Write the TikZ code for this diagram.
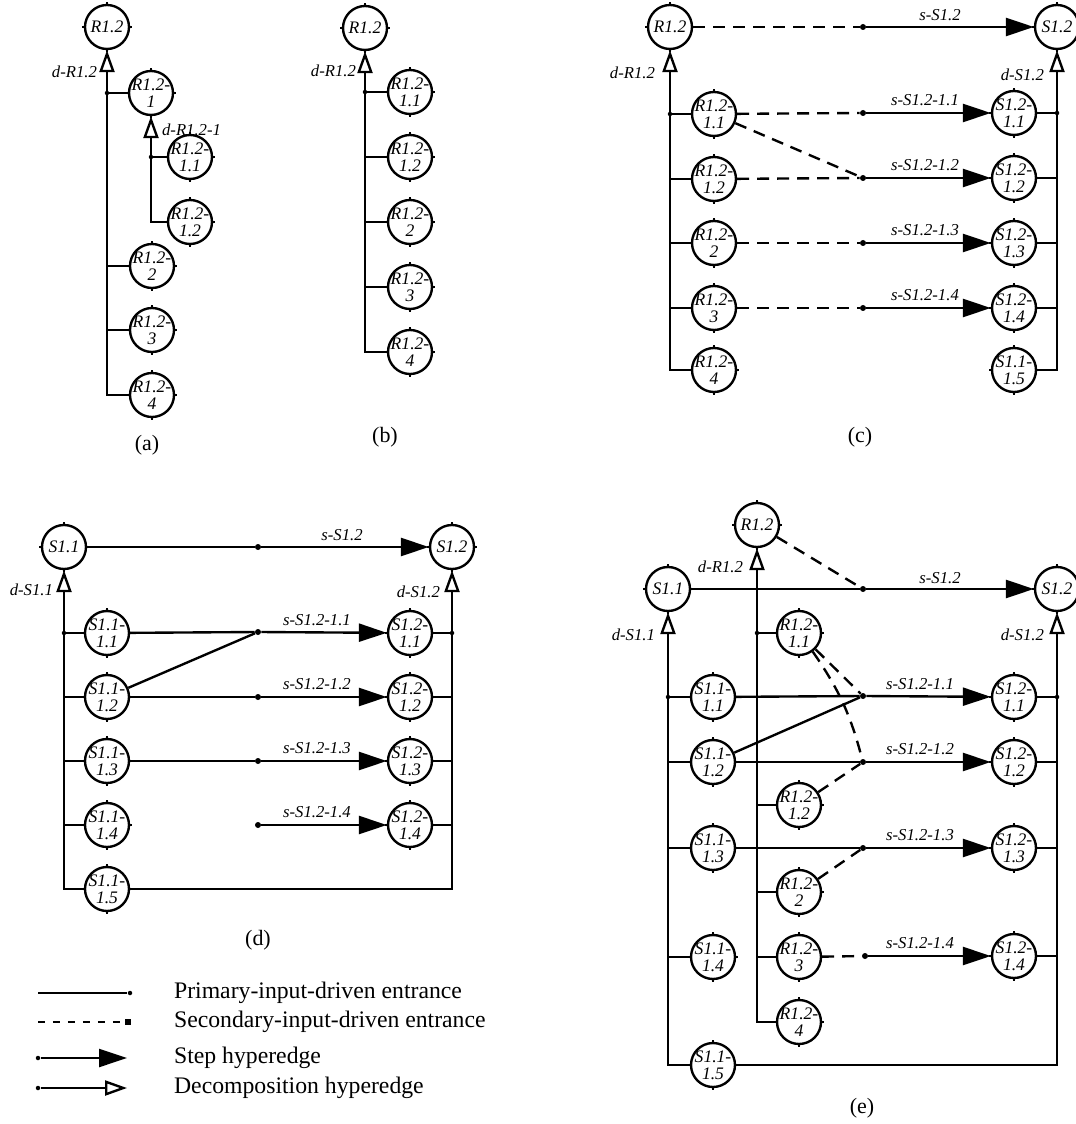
\documentclass[tikz,border=0pt]{standalone}
\usepackage{fontspec}
\setmainfont{Liberation Serif}
\usetikzlibrary{arrows.meta,positioning,calc}

\begin{document}
\begin{tikzpicture}[x=0.02cm,y=-0.02cm,
  proc/.style={circle,draw,line width=1.35pt,minimum size=8.8mm,inner sep=-2pt,align=center,font=\fontsize{10}{9.5}\selectfont\itshape,
    append after command={(\tikzlastnode.north) edge[tick] +(0,1.3pt) (\tikzlastnode.south) edge[tick] +(0,-1.3pt)
      (\tikzlastnode.east) edge[tick] +(1.3pt,0) (\tikzlastnode.west) edge[tick] +(-1.3pt,0)}},
  tick/.style={line width=0.7pt},
  lbl/.style={inner sep=1pt,font=\fontsize{9.5}{9.5}\selectfont\itshape},
  capt/.style={inner sep=1pt,font=\fontsize{12.5}{14}\selectfont},
  lgt/.style={inner sep=1pt,font=\fontsize{13.5}{15}\selectfont},
  jn/.style={circle,fill,inner sep=0pt,minimum size=1.2mm},
  bj/.style={circle,fill,inner sep=0pt,minimum size=0.9mm},
  prim/.style={line width=1.35pt},
  sec/.style={line width=1.35pt,dash pattern=on 2.4mm off 1.6mm},
  stp/.style={line width=1.35pt,-{Triangle[length=5.6mm,width=3.6mm]}},
  dec/.style={line width=1.35pt,-{Triangle[open,length=4.4mm,width=3mm]}}]
\useasboundingbox (0,0) rectangle (1075,1124);
% (a) nested decomposition of R1.2
\node[proc] (aR) at (107,27) {R1.2};
\node[proc] (aR1) at (151,93) {R1.2-\\1};
\node[proc] (aR11) at (190,157) {R1.2-\\1.1};
\node[proc] (aR12) at (190,222) {R1.2-\\1.2};
\node[proc] (aR2) at (152,266) {R1.2-\\2};
\node[proc] (aR3) at (152,330) {R1.2-\\3};
\node[proc] (aR4) at (152,395) {R1.2-\\4};
\draw[dec] (aR4.west) -| (aR.south);
\draw[prim] (aR1.west) -- (aR1 -| aR);
\draw[prim] (aR2.west) -- (aR2 -| aR);
\draw[prim] (aR3.west) -- (aR3 -| aR);
\node[bj] (aj1) at (aR1 -| aR) {};
\draw[dec] (aR12.west) -| (aR1.south);
\draw[prim] (aR11.west) -- (aR11 -| aR1);
\node[bj] (aj2) at (aR11 -| aR1) {};
\node[lbl,anchor=east] (adl) at (99,72) {d-R1.2};
\node[lbl,anchor=west] (adl1) at (160,130) {d-R1.2-1};
\node[capt] (acap) at (147,445) {(a)};
% (b) flattened decomposition
\node[proc] (bR) at (365,28) {R1.2};
\node[proc] (bR11) at (410,92) {R1.2-\\1.1};
\node[proc] (bR12) at (410,157) {R1.2-\\1.2};
\node[proc] (bR2) at (410,222) {R1.2-\\2};
\node[proc] (bR3) at (410,287) {R1.2-\\3};
\node[proc] (bR4) at (410,352) {R1.2-\\4};
\draw[dec] (bR4.west) -| (bR.south);
\foreach \n in {bR11,bR12,bR2,bR3}
  \draw[prim] (\n.west) -- (\n -| bR);
\node[bj] (bj1) at (bR11 -| bR) {};
\node[lbl,anchor=east] (bdl) at (358,71) {d-R1.2};
\node[capt] (bcap) at (385,437) {(b)};
% (c) secondary-input-driven entrances
\node[proc] (cR) at (670,27) {R1.2};
\node[proc] (cR11) at (714,114) {R1.2-\\1.1};
\node[proc] (cR12) at (714,179) {R1.2-\\1.2};
\node[proc] (cR2) at (714,243) {R1.2-\\2};
\node[proc] (cR3) at (714,308) {R1.2-\\3};
\node[proc] (cR4) at (714,370) {R1.2-\\4};
\node[proc] (cS) at (1057,27) {S1.2};
\node[proc] (cS11) at (1014,113) {S1.2-\\1.1};
\node[proc] (cS12) at (1014,178) {S1.2-\\1.2};
\node[proc] (cS13) at (1014,243) {S1.2-\\1.3};
\node[proc] (cS14) at (1014,308) {S1.2-\\1.4};
\node[proc] (cS15) at (1014,370) {S1.1-\\1.5};
\node[jn] (cj0) at (863,27) {};
\node[jn] (cj1) at (863,113) {};
\node[jn] (cj2) at (863,178) {};
\node[jn] (cj3) at (863,243) {};
\node[jn] (cj4) at (863,308) {};
\draw[sec] (cR) -- (cj0);
\draw[sec] (cR11) -- (cj1);
\draw[sec] (cR11) -- (cj2);
\draw[sec] (cR12) -- (cj2);
\draw[sec] (cR2) -- (cj3);
\draw[sec] (cR3) -- (cj4);
\draw[stp] (cj0) -- (cS);
\draw[stp] (cj1) -- (cS11);
\draw[stp] (cj2) -- (cS12);
\draw[stp] (cj3) -- (cS13);
\draw[stp] (cj4) -- (cS14);
\draw[dec] (cR4.west) -| (cR.south);
\foreach \n in {cR11,cR12,cR2,cR3}
  \draw[prim] (\n.west) -- (\n -| cR);
\node[bj] (cj5) at (cR11 -| cR) {};
\draw[dec] (cS15.east) -| (cS.south);
\foreach \n in {cS11,cS12,cS13,cS14}
  \draw[prim] (\n.east) -- (\n -| cS);
\node[bj] (cj6) at (cS11 -| cS) {};
\node[lbl,anchor=east] (cdl1) at (657,73) {d-R1.2};
\node[lbl,anchor=east] (cdl2) at (1046,75) {d-S1.2};
\node[lbl] (cl0) at (940,15) {s-S1.2};
\node[lbl] (cl1) at (925,100) {s-S1.2-1.1};
\node[lbl] (cl2) at (925,165) {s-S1.2-1.2};
\node[lbl] (cl3) at (925,230) {s-S1.2-1.3};
\node[lbl] (cl4) at (925,295) {s-S1.2-1.4};
\node[capt] (ccap) at (860,437) {(c)};
% (d) primary-input-driven entrances
\node[proc] (dS1) at (64,547) {S1.1};
\node[proc] (dS11) at (107,633) {S1.1-\\1.1};
\node[proc] (dS12) at (107,697) {S1.1-\\1.2};
\node[proc] (dS13) at (107,761) {S1.1-\\1.3};
\node[proc] (dS14) at (107,825) {S1.1-\\1.4};
\node[proc] (dS15) at (107,889) {S1.1-\\1.5};
\node[proc] (dS2) at (452,547) {S1.2};
\node[proc] (dS21) at (410,633) {S1.2-\\1.1};
\node[proc] (dS22) at (410,697) {S1.2-\\1.2};
\node[proc] (dS23) at (410,761) {S1.2-\\1.3};
\node[proc] (dS24) at (410,825) {S1.2-\\1.4};
\node[jn] (dj0) at (258,547) {};
\node[jn] (dj1) at (258,632) {};
\node[jn] (dj2) at (258,697) {};
\node[jn] (dj3) at (258,761) {};
\node[jn] (dj4) at (258,825) {};
\draw[prim] (dS1) -- (dj0);
\draw[prim] (dS11) -- (dj1);
\draw[prim] (dS12) -- (dj2);
\draw[prim] (dS12) -- (dj1);
\draw[prim] (dS13) -- (dj3);
\draw[stp] (dj0) -- (dS2);
\draw[stp] (dj1) -- (dS21);
\draw[stp] (dj2) -- (dS22);
\draw[stp] (dj3) -- (dS23);
\draw[stp] (dj4) -- (dS24);
\draw[dec] (dS15.west) -| (dS1.south);
\foreach \n in {dS11,dS12,dS13,dS14}
  \draw[prim] (\n.west) -- (\n -| dS1);
\node[bj] (dj5) at (dS11 -| dS1) {};
\draw[dec] (dS15.east) -| (dS2.south);
\foreach \n in {dS21,dS22,dS23,dS24}
  \draw[prim] (\n.east) -- (\n -| dS2);
\node[bj] (dj6) at (dS21 -| dS2) {};
\node[lbl,anchor=east] (ddl1) at (55,590) {d-S1.1};
\node[lbl,anchor=east] (ddl2) at (442,592) {d-S1.2};
\node[lbl] (dl0) at (342,535) {s-S1.2};
\node[lbl] (dl1) at (317,620) {s-S1.2-1.1};
\node[lbl] (dl2) at (317,684) {s-S1.2-1.2};
\node[lbl] (dl3) at (317,748) {s-S1.2-1.3};
\node[lbl] (dl4) at (317,812) {s-S1.2-1.4};
\node[capt] (dcap) at (258,940) {(d)};
% legend
\coordinate (lg1) at (38,993);
\node[bj] (lg1e) at (130,993) {};
\draw[prim] (lg1) -- (lg1e);
\coordinate (lg2) at (38,1022);
\node[jn,rectangle] (lg2e) at (128,1022) {};
\draw[line width=1.35pt,dash pattern=on 1.4mm off 1.6mm] (lg2) -- (lg2e);
\node[bj] (lg3) at (38,1058) {};
\coordinate (lg3e) at (127,1058);
\draw[stp] (lg3) -- (lg3e);
\node[bj] (lg4) at (38,1088) {};
\coordinate (lg4e) at (127,1088);
\draw[dec] (lg4) -- (lg4e);
\node[lgt,anchor=west] (lt1) at (172,993) {Primary-input-driven entrance};
\node[lgt,anchor=west] (lt2) at (172,1022) {Secondary-input-driven entrance};
\node[lgt,anchor=west] (lt3) at (172,1058) {Step hyperedge};
\node[lgt,anchor=west] (lt4) at (172,1088) {Decomposition hyperedge};
% (e) both kinds of entrance combined
\node[proc] (eR) at (757,525) {R1.2};
\node[proc] (eR11) at (799,633) {R1.2-\\1.1};
\node[proc] (eR12) at (799,805) {R1.2-\\1.2};
\node[proc] (eR2) at (799,892) {R1.2-\\2};
\node[proc] (eR3) at (799,957) {R1.2-\\3};
\node[proc] (eR4) at (799,1022) {R1.2-\\4};
\node[proc] (eS1) at (668,589) {S1.1};
\node[proc] (eS11) at (713,697) {S1.1-\\1.1};
\node[proc] (eS12) at (713,762) {S1.1-\\1.2};
\node[proc] (eS13) at (713,848) {S1.1-\\1.3};
\node[proc] (eS14) at (713,957) {S1.1-\\1.4};
\node[proc] (eS15) at (713,1065) {S1.1-\\1.5};
\node[proc] (eS2) at (1057,589) {S1.2};
\node[proc] (eS21) at (1014,697) {S1.2-\\1.1};
\node[proc] (eS22) at (1014,762) {S1.2-\\1.2};
\node[proc] (eS23) at (1014,848) {S1.2-\\1.3};
\node[proc] (eS24) at (1014,956) {S1.2-\\1.4};
\node[jn] (ej0) at (863,589) {};
\node[jn] (ej1) at (863,696) {};
\node[jn] (ej2) at (863,762) {};
\node[jn] (ej3) at (863,848) {};
\node[jn] (ej4) at (865,956) {};
\draw[dec] (eR4.west) -| (eR.south);
\foreach \n in {eR11,eR12,eR2,eR3}
  \draw[prim] (\n.west) -- (\n -| eR);
\node[bj] (ej5) at (eR11 -| eR) {};
\draw[prim] (eS1) -- (ej0);
\draw[prim] (eS11) -- (ej1);
\draw[prim] (eS12) -- (ej2);
\draw[prim] (eS12) -- (ej1);
\draw[prim] (eS13) -- (ej3);
\draw[sec] (eR) -- (ej0);
\draw[sec] (eR11) -- (ej1);
\draw[sec] (eR11) to[bend left=10] (ej2);
\draw[sec] (eR12) -- (ej2);
\draw[sec] (eR2) -- (ej3);
\draw[sec] (eR3) -- (ej4);
\draw[stp] (ej0) -- (eS2);
\draw[stp] (ej1) -- (eS21);
\draw[stp] (ej2) -- (eS22);
\draw[stp] (ej3) -- (eS23);
\draw[stp] (ej4) -- (eS24);
\draw[dec] (eS15.west) -| (eS1.south);
\foreach \n in {eS11,eS12,eS13,eS14}
  \draw[prim] (\n.west) -- (\n -| eS1);
\node[bj] (ej6) at (eS11 -| eS1) {};
\draw[dec] (eS15.east) -| (eS2.south);
\foreach \n in {eS21,eS22,eS23,eS24}
  \draw[prim] (\n.east) -- (\n -| eS2);
\node[bj] (ej7) at (eS21 -| eS2) {};
\node[lbl,anchor=east] (edl1) at (745,567) {d-R1.2};
\node[lbl,anchor=east] (edl2) at (657,635) {d-S1.1};
\node[lbl,anchor=east] (edl3) at (1046,635) {d-S1.2};
\node[lbl] (el0) at (940,578) {s-S1.2};
\node[lbl] (el1) at (920,684) {s-S1.2-1.1};
\node[lbl] (el2) at (920,749) {s-S1.2-1.2};
\node[lbl] (el3) at (920,835) {s-S1.2-1.3};
\node[lbl] (el4) at (920,943) {s-S1.2-1.4};
\node[capt] (ecap) at (862,1108) {(e)};
\end{tikzpicture}
\end{document}
